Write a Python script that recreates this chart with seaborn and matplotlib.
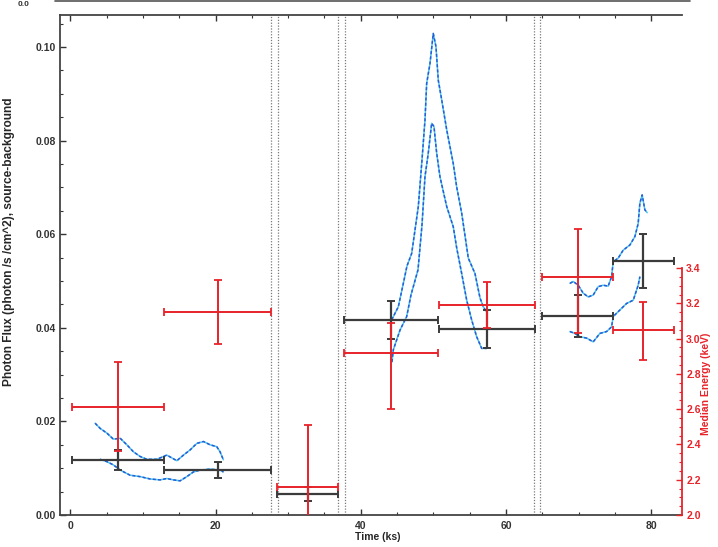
import numpy as np
import pandas as pd
import matplotlib
matplotlib.use("Agg")
import matplotlib.pyplot as plt
from matplotlib.ticker import MultipleLocator, FixedLocator
from matplotlib.lines import Line2D
import seaborn as sns

# ---------------- data ----------------
# binned photon flux (black)
flux_t = [6.6, 20.4, 32.7, 44.2, 57.3, 69.9, 78.9]
flux_lo = [0.2, 12.9, 28.4, 37.7, 50.8, 64.9, 74.7]
flux_hi = [12.9, 27.6, 36.9, 50.6, 64.0, 74.7, 83.1]
flux_val = [0.0118, 0.0096, 0.0044, 0.0417, 0.0397, 0.0426, 0.0543]
flux_err = [0.0021, 0.0018, 0.0015, 0.0040, 0.0040, 0.0045, 0.0057]

# binned median energy (red)
en_t = [6.6, 20.4, 32.7, 44.2, 57.3, 69.9, 78.9]
en_lo = [0.2, 12.9, 28.4, 37.7, 50.8, 64.9, 74.7]
en_hi = [12.9, 27.6, 36.9, 50.6, 64.0, 74.7, 83.1]
en_val = [2.61, 3.15, 2.16, 2.92, 3.19, 3.35, 3.05]
en_err_lo = [0.25, 0.18, 0.35, 0.32, 0.13, 0.32, 0.17]
en_err_hi = [0.26, 0.18, 0.35, 0.17, 0.13, 0.27, 0.16]

# running light curves (upper / lower) per segment
seg1_up_t = [3.44, 4.13, 5.05, 5.95, 6.88, 7.80, 8.71, 9.63, 10.55, 11.92, 13.3,
             14.68, 15.59, 16.5, 17.43, 18.34, 19.26, 20.17, 20.63, 21.08]
seg1_up_f = [0.0196, 0.0185, 0.0175, 0.0162, 0.0164, 0.0150, 0.0135, 0.0125, 0.0119,
             0.0119, 0.0128, 0.0116, 0.0128, 0.0139, 0.0153, 0.0157, 0.0150, 0.0146,
             0.0135, 0.0118]
seg1_lo_t = [4.13, 5.05, 5.95, 6.88, 8.25, 9.63, 11.0, 12.38, 13.3, 14.21, 15.13,
             16.05, 16.96, 17.88, 19.26, 20.63, 21.08]
seg1_lo_f = [0.0119, 0.0114, 0.0107, 0.0096, 0.0085, 0.0082, 0.0077, 0.0075, 0.0078,
             0.0075, 0.0073, 0.0082, 0.0092, 0.0096, 0.0098, 0.0096, 0.0092]

seg2_up_t = [44.25, 45.16, 45.85, 46.35, 47.0, 47.91, 48.42, 48.83, 49.06, 49.52, 49.97,
             50.34, 50.66, 51.13, 51.82, 52.72, 53.19, 53.88, 54.79, 55.71, 56.40,
             56.85, 57.32]
seg2_up_f = [0.0417, 0.0445, 0.0495, 0.0532, 0.0559, 0.0659, 0.0759, 0.0844, 0.0922,
             0.0965, 0.1029, 0.1001, 0.0929, 0.0887, 0.0823, 0.0751, 0.0701, 0.0645,
             0.0549, 0.0516, 0.0464, 0.0445, 0.0434]
seg2_lo_t = [44.29, 44.47, 45.39, 46.31, 46.9, 47.87, 48.42, 48.83, 49.28, 49.75, 50.07,
             50.44, 50.89, 51.82, 52.72, 53.19, 53.88, 54.57, 55.25, 55.94, 56.63, 57.32]
seg2_lo_f = [0.0327, 0.0353, 0.0395, 0.0424, 0.0470, 0.0524, 0.0620, 0.0723, 0.0773,
             0.0837, 0.0830, 0.0773, 0.0723, 0.0659, 0.0616, 0.0571, 0.0516, 0.0459,
             0.0417, 0.0381, 0.0356, 0.0356]

seg3_up_t = [68.78, 69.23, 69.92, 70.6, 71.29, 71.98, 72.67, 73.36, 74.04, 74.51, 74.73,
             75.42, 76.11, 77.03, 77.72, 78.17, 78.4, 78.72, 79.09, 79.41]
seg3_up_f = [0.0495, 0.0499, 0.0491, 0.0474, 0.0466, 0.0470, 0.0488, 0.0491, 0.0489,
             0.0509, 0.0541, 0.0549, 0.0566, 0.0577, 0.0595, 0.0623, 0.0666, 0.0684,
             0.0652, 0.0646]
seg3_lo_t = [68.78, 69.46, 70.15, 71.07, 71.98, 72.9, 73.82, 74.51, 74.73, 75.65, 76.57,
             77.49, 78.17, 78.4]
seg3_lo_f = [0.0392, 0.0388, 0.0381, 0.0378, 0.0370, 0.0388, 0.0392, 0.0402, 0.0424,
             0.0438, 0.0452, 0.0459, 0.0491, 0.0509]

gap_lines = [27.6, 28.6, 36.9, 37.8, 63.9, 64.7]

flux_ticks = [0.00, 0.02, 0.04, 0.06, 0.08, 0.10]
flux_ticklabels = ["0.00", "0.02", "0.04", "0.06", "0.08", "0.10"]
time_ticks = [0, 20, 40, 60, 80]
en_ticks = [2.0, 2.2, 2.4, 2.6, 2.8, 3.0, 3.2, 3.4]

# ---------------- style ----------------
sns.set_style("ticks")
plt.rcParams["font.family"] = ["Liberation Sans", "DejaVu Sans"]
plt.rcParams["font.weight"] = "bold"

W, H = 718, 547
fig = plt.figure(figsize=(W / 100, H / 100), dpi=100)
L, R, B, T = 60, 682, 515, 15
ax = fig.add_axes([L / W, 1 - B / H, (R - L) / W, (B - T) / H])

RED = "#e8232a"
BLK = "#3b3b3b"
CYAN = "#4cc6ec"
BLUE = "#2a5bd7"

ax.set_xlim(-1.4, 84.2)
ax.set_ylim(0.0, 0.10684)

# gap dotted lines
for g in gap_lines:
    ax.axvline(g, color="#7a7a7a", lw=0.9, ls=(0, (1, 1.3)), zorder=1)

# light curves
curves = [(seg1_up_t, seg1_up_f), (seg1_lo_t, seg1_lo_f),
          (seg2_up_t, seg2_up_f), (seg2_lo_t, seg2_lo_f),
          (seg3_up_t, seg3_up_f), (seg3_lo_t, seg3_lo_f)]
for tt, ff in curves:
    df = pd.DataFrame({"t": tt, "f": ff})
    sns.lineplot(data=df, x="t", y="f", ax=ax, color=CYAN, lw=1.1, sort=False,
                 estimator=None, zorder=2)
    sns.lineplot(data=df, x="t", y="f", ax=ax, color=BLUE, lw=1.1, sort=False,
                 estimator=None, linestyle=(0, (2.0, 1.4)), zorder=3)

# black flux bars
fx = np.array(flux_t)
ax.errorbar(fx, flux_val, yerr=flux_err,
            xerr=[fx - np.array(flux_lo), np.array(flux_hi) - fx],
            fmt="none", ecolor=BLK, elinewidth=1.6, capsize=2.8, capthick=1.4, zorder=4)

ax.set_xlabel("Time (ks)", fontsize=7.5, fontweight="bold")
ax.set_ylabel("Photon Flux (photon /s /cm^2), source-background", fontsize=8.6,
              fontweight="bold")
ax.xaxis.set_label_coords(0.511, -0.035)
ax.yaxis.set_label_coords(-0.072, 0.546)

ax.set_xticks(time_ticks)
ax.set_xticklabels([str(t) for t in time_ticks])
ax.xaxis.set_minor_locator(MultipleLocator(5))
ax.set_yticks(flux_ticks)
ax.set_yticklabels(flux_ticklabels)
ax.yaxis.set_minor_locator(MultipleLocator(0.005))
ax.tick_params(axis="both", which="both", direction="in", labelsize=7.5, colors="#333333")
ax.tick_params(axis="x", which="both", top=True, bottom=True, pad=4)
ax.tick_params(axis="y", which="both", left=True, right=False, pad=3)
ax.tick_params(which="major", length=4, width=1)
ax.tick_params(which="minor", length=2.2, width=0.8)
for lab in ax.get_xticklabels() + ax.get_yticklabels():
    lab.set_fontweight("bold")
ax.spines["right"].set_visible(False)
for s in ["left", "bottom", "top"]:
    ax.spines[s].set_color("#444444")
    ax.spines[s].set_linewidth(1.3)

# red energy axis
ax2 = ax.twinx()
ax2.set_ylim(2.0, 2.0 + (B - T) / 176.4)
ex = np.array(en_t)
ax2.errorbar(ex, en_val, yerr=[en_err_lo, en_err_hi],
             xerr=[ex - np.array(en_lo), np.array(en_hi) - ex],
             fmt="none", ecolor=RED, elinewidth=1.4, capsize=2.8, capthick=1.3, zorder=5)
for s in ["left", "top", "bottom"]:
    ax2.spines[s].set_visible(False)
ax2.spines["right"].set_color(RED)
ax2.spines["right"].set_linewidth(1.3)
ax2.spines["right"].set_bounds(2.0, 3.4)
ax2.yaxis.set_major_locator(FixedLocator(en_ticks))
ax2.set_yticklabels([f"{v:.1f}" for v in en_ticks])
ax2.yaxis.set_minor_locator(FixedLocator(list(np.arange(2.05, 3.4, 0.05))))
ax2.tick_params(axis="y", which="both", direction="in", colors=RED, labelsize=7.5, pad=3)
ax2.tick_params(which="major", length=4, width=1)
ax2.tick_params(which="minor", length=2.2, width=0.8)
for lab in ax2.get_yticklabels():
    lab.set_fontweight("bold")
ax2.set_ylabel("Median Energy (keV)", color=RED, fontsize=7.5, fontweight="bold")
ax2.yaxis.set_label_coords(1.031, 0.262)

# remnant frame of plot above
fig.add_artist(Line2D([55 / W, 690 / W], [1 - 0.5 / H, 1 - 0.5 / H], color="#555555",
                      lw=1.2, transform=fig.transFigure))
fig.text(24 / W, 1 - 1 / H, "0.0", fontsize=6, fontweight="bold", color="#333333",
         ha="center", va="top")

fig.savefig("out.png", dpi=100)
